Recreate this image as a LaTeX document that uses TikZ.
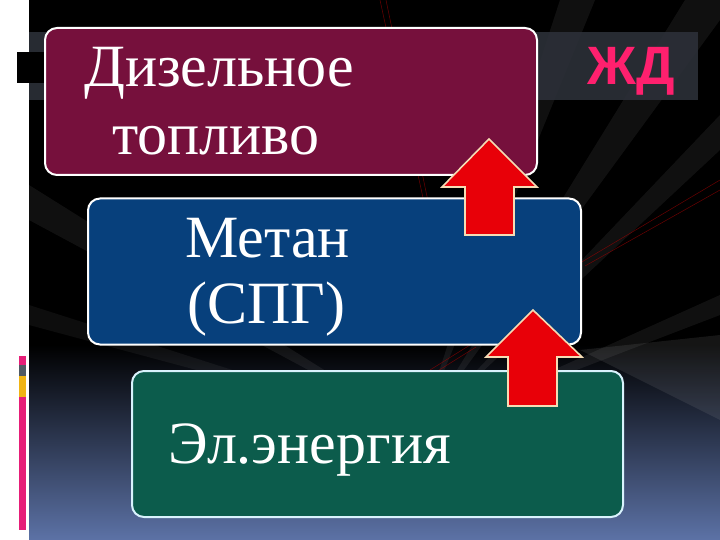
\documentclass[tikz,border=0pt]{standalone}
\usepackage{fontspec}
\setmainfont{Liberation Serif}
\newfontfamily\rusfont{Liberation Serif}
\newfontfamily\zdfont{Liberation Sans}
\definecolor{bgblue}{RGB}{92,114,166}
\definecolor{bandgray}{RGB}{44,48,56}
\definecolor{boxmaroon}{RGB}{118,16,60}
\definecolor{boxblue}{RGB}{7,64,124}
\definecolor{boxgreen}{RGB}{12,92,76}
\definecolor{arrred}{RGB}{232,0,8}
\definecolor{arrcream}{RGB}{245,220,180}
\definecolor{zdpink}{RGB}{255,32,110}
\definecolor{decopink}{RGB}{230,30,120}
\definecolor{decogray}{RGB}{80,90,100}
\definecolor{decoyellow}{RGB}{240,180,20}
\tikzset{
  panel/.style={draw=white, line width=2pt, rounded corners=12pt, inner sep=0pt},
  lbl/.style={anchor=base west, inner sep=0pt, text=white, font=\rusfont\fontsize{60}{60}\selectfont},
  blockarrow/.style={fill=arrred, draw=arrcream, line width=1.6pt, line join=miter},
  ray/.style={fill=gray!70, opacity=0.1},
  redline/.style={draw=red!70!black, line width=0.5pt, opacity=0.6}
}
\begin{document}
\begin{tikzpicture}[x=1pt,y=-1pt]
\useasboundingbox (0,0) rectangle (720,540);
\fill[white] (0,0) rectangle (720,540);
\fill[black] (29,0) rectangle (720,540);
\shade[top color=black, bottom color=bgblue] (29,345) rectangle (720,540);
% light rays
\coordinate (c) at (420,430);
\fill[ray] (c) -- (560,0) -- (595,0) -- cycle;
\fill[ray] (c) -- (685,0) -- (720,0) -- (720,20) -- cycle;
\fill[ray] (c) -- (720,115) -- (720,150) -- cycle;
\fill[ray] (c) -- (720,295) -- (720,315) -- cycle;
\fill[ray] (c) -- (29,185) -- (29,220) -- cycle;
\fill[ray, opacity=0.08] (c) -- (29,305) -- (29,325) -- cycle;
\fill[gray!60, opacity=0.12] (580,350) -- (720,335) -- (720,420) -- cycle;
\draw[redline] (380,0) -- (430,230);
\draw[redline] (386,0) -- (434,230);
\draw[redline] (580,263) -- (720,180);
\draw[redline] (585,266) -- (720,190);
\draw[redline] (430,370) -- (470,345);
\draw[redline] (436,372) -- (476,347);
% title band
\fill[bandgray, opacity=0.9] (29,32) rectangle (698,100);
\fill[black] (17,52) rectangle (45,83);
\node[anchor=base west, inner sep=0pt, text=zdpink, font=\zdfont\bfseries\fontsize{54}{54}\selectfont] (zd) at (587,85) {ЖД};
% left decoration
\fill[decopink] (19,356) rectangle (26,365);
\fill[decogray] (19,365) rectangle (26,376);
\fill[decoyellow] (19,376) rectangle (26,397);
\fill[decopink] (19,397) rectangle (26,530);
% panels
\node[panel, fill=boxmaroon, minimum width=492pt, minimum height=147pt] (b1) at (291,101.5) {};
\node[panel, fill=boxblue, minimum width=493pt, minimum height=146pt] (b2) at (334.5,271.5) {};
\node[panel, draw=white!85!cyan, fill=boxgreen, minimum width=491pt, minimum height=146pt] (b3) at (377.5,444) {};
% texts
\node[lbl] (t1a) at (84,87) {Дизельное};
\node[lbl] (t1b) at (112,155) {топливо};
\node[lbl] (t2a) at (185,258) {Метан};
\node[lbl] (t2b) at (187,323) {(СПГ)};
\node[lbl] (t3) at (168,463) {Эл.энергия};
% block arrows
\filldraw[blockarrow] (489,139) -- (537,187) -- (514,187) -- (514,235) -- (465,235) -- (465,187) -- (442,187) -- cycle;
\filldraw[blockarrow] (533,310) -- (582,357) -- (557,357) -- (557,406) -- (508,406) -- (508,357) -- (486,357) -- cycle;
\end{tikzpicture}
\end{document}
